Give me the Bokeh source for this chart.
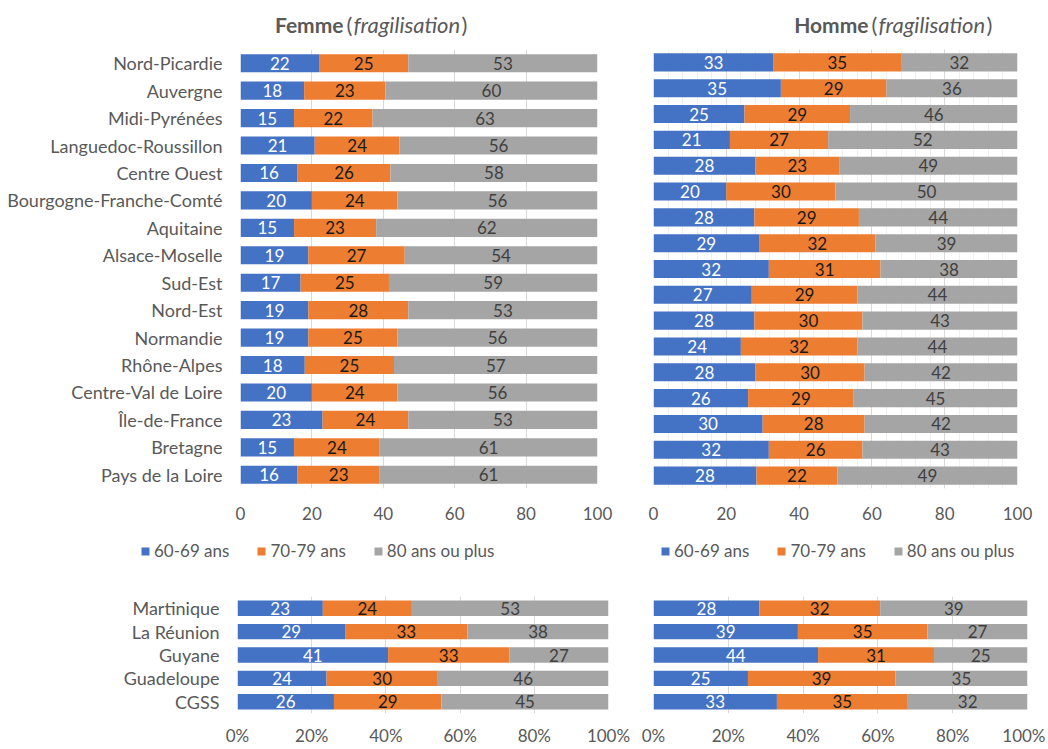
import numpy as np
from bokeh.plotting import figure
from bokeh.layouts import column, row
from bokeh.models import (FactorRange, Range1d, Legend, LegendItem, Label,
                          ColumnDataSource, FixedTicker, PrintfTickFormatter)
from bokeh.core.properties import value
from bokeh.embed import file_html
from bokeh.resources import INLINE

FONT = "Lato"

# ---------------- data ----------------
regions_femme = ["Nord-Picardie", "Auvergne", "Midi-Pyrénées", "Languedoc-Roussillon",
                 "Centre Ouest", "Bourgogne-Franche-Comté", "Aquitaine", "Alsace-Moselle",
                 "Sud-Est", "Nord-Est", "Normandie", "Rhône-Alpes", "Centre-Val de Loire",
                 "Île-de-France", "Bretagne", "Pays de la Loire"]
femme_60_69 = [22, 18, 15, 21, 16, 20, 15, 19, 17, 19, 19, 18, 20, 23, 15, 16]
femme_70_79 = [25, 23, 22, 24, 26, 24, 23, 27, 25, 28, 25, 25, 24, 24, 24, 23]
femme_80_plus = [53, 60, 63, 56, 58, 56, 62, 54, 59, 53, 56, 57, 56, 53, 61, 61]

rows_homme = ["1", "2", "3", "4", "5", "6", "7", "8", "9", "10", "11", "12",
              "13", "14", "15", "16", "17"]
homme_60_69 = [33, 35, 25, 21, 28, 20, 28, 29, 32, 27, 28, 24, 28, 26, 30, 32, 28]
homme_70_79 = [35, 29, 29, 27, 23, 30, 29, 32, 31, 29, 30, 32, 30, 29, 28, 26, 22]
homme_80_plus = [32, 36, 46, 52, 49, 50, 44, 39, 38, 44, 43, 44, 42, 45, 42, 43, 49]

regions_dom = ["Martinique", "La Réunion", "Guyane", "Guadeloupe", "CGSS"]
dom_femme_60_69 = [23, 29, 41, 24, 26]
dom_femme_70_79 = [24, 33, 33, 30, 29]
dom_femme_80_plus = [53, 38, 27, 46, 45]
dom_homme_60_69 = [28, 39, 44, 25, 33]
dom_homme_70_79 = [32, 35, 31, 39, 35]
dom_homme_80_plus = [39, 27, 25, 35, 32]

series_labels = ["60-69 ans", "70-79 ans", "80 ans ou plus"]
x_ticks = [0, 20, 40, 60, 80, 100]

# ---------------- styles ----------------
COLORS = ["#4472C4", "#ED7D31", "#A5A5A5"]
TEXT_COLORS = ["#FFFFFF", "#1A1A1A", "#404040"]
AXIS_COLOR = "#595959"
GRID_COLOR = "#D9D9D9"
W_TOTAL = 1045


def make_source(cats, s1, s2, s3):
    a, b, c = np.array(s1, float), np.array(s2, float), np.array(s3, float)
    tot = a + b + c
    n1, n2, n3 = 100 * a / tot, 100 * b / tot, 100 * c / tot
    return ColumnDataSource(dict(
        cat=list(cats), n1=n1, n2=n2, n3=n3,
        m1=n1 / 2, m2=n1 + n2 / 2, m3=n1 + n2 + n3 / 2,
        l1=[str(v) for v in s1], l2=[str(v) for v in s2], l3=[str(v) for v in s3]))


def make_panel(cats, s1, s2, s3, width, height, bl, br, bt, bb, bar_h,
               show_cats, pct, x_standoff, minor=False):
    p = figure(width=width, height=height, output_backend="svg", toolbar_location=None,
               x_range=Range1d(0, 100), y_range=FactorRange(factors=list(reversed(cats))),
               min_border_left=bl, min_border_right=br, min_border_top=bt,
               min_border_bottom=bb, outline_line_color=None)
    src = make_source(cats, s1, s2, s3)
    p.hbar_stack(["n1", "n2", "n3"], y="cat", height=bar_h, color=COLORS,
                 line_color=None, source=src)
    for k in range(3):
        p.text(x=f"m{k+1}", y="cat", text=f"l{k+1}", source=src, text_align="center",
               text_baseline="middle", text_font=value(FONT), text_font_size="17px",
               text_color=TEXT_COLORS[k])
    p.ygrid.visible = False
    p.xgrid.grid_line_color = GRID_COLOR
    ticker = FixedTicker(ticks=x_ticks)
    if minor:
        ticker = FixedTicker(ticks=x_ticks, minor_ticks=list(range(0, 101, 4)))
        p.xgrid.minor_grid_line_color = "#EFEFEF"
    p.xaxis.ticker = ticker
    if pct:
        p.xaxis.formatter = PrintfTickFormatter(format="%d%%")
    for ax in p.axis:
        ax.axis_line_color = None
        ax.major_tick_line_color = None
        ax.minor_tick_line_color = None
        ax.major_tick_out = 0
        ax.major_tick_in = 0
        ax.minor_tick_out = 0
        ax.minor_tick_in = 0
        ax.major_label_text_font = FONT
        ax.major_label_text_color = AXIS_COLOR
    p.xaxis.major_label_text_font_size = "17px"
    p.yaxis.major_label_text_font_size = "18px"
    p.xaxis.major_label_standoff = x_standoff
    p.yaxis.major_label_standoff = 18
    if not show_cats:
        p.yaxis.visible = False
    return p


def blank_fig(width, height):
    f = figure(width=width, height=height, output_backend="svg", toolbar_location=None,
               x_range=Range1d(0, width), y_range=Range1d(0, height),
               min_border=0, min_border_left=0, min_border_right=0,
               min_border_top=0, min_border_bottom=0, outline_line_color=None)
    f.axis.visible = False
    f.grid.visible = False
    return f


# ---------------- titles ----------------
TITLE_H = 40
title_fig = blank_fig(W_TOTAL, TITLE_H)


def add_title(f, x, y, main):
    size = "22px"
    f.add_layout(Label(x=x, y=y, text=main, text_font=FONT, text_font_style="bold",
                       text_font_size="21px", text_color=AXIS_COLOR, text_align="right",
                       text_baseline="middle"))
    f.add_layout(Label(x=x + 3, y=y, text="(", text_font=FONT, text_font_size=size,
                       text_color=AXIS_COLOR, text_align="left", text_baseline="middle"))
    f.add_layout(Label(x=x + 10, y=y, text="fragilisation", text_font=FONT,
                       text_font_style="italic", text_font_size=size, text_color=AXIS_COLOR,
                       text_align="left", text_baseline="middle"))
    f.add_layout(Label(x=x + 118, y=y, text=")", text_font=FONT, text_font_size=size,
                       text_color=AXIS_COLOR, text_align="left", text_baseline="middle"))


add_title(title_fig, 343, TITLE_H - 24, "Femme")
add_title(title_fig, 868, TITLE_H - 24, "Homme")

# ---------------- main panels ----------------
p1 = make_panel(regions_femme, femme_60_69, femme_70_79, femme_80_plus,
                625, 488, 240, 28, 9, 40, 0.66, True, False, 18)
p2 = make_panel(rows_homme, homme_60_69, homme_70_79, homme_80_plus,
                420, 488, 28, 28, 9, 40, 0.7, False, False, 18, minor=True)

# ---------------- legends ----------------
LEG_H = 47
legend_fig = blank_fig(W_TOTAL, LEG_H)


def add_legend(f, x0):
    # zero-size proxy bars, only used to give the legend its coloured squares
    rs = [f.hbar(y=[0], left=[0], right=[0], height=0, color=c, line_color=None)
          for c in COLORS]
    leg = Legend(items=[LegendItem(label=lab, renderers=[r]) for lab, r in zip(series_labels, rs)],
                 orientation="horizontal", location=(x0, 14), border_line_color=None,
                 background_fill_alpha=0, label_text_font=FONT, label_text_font_size="17px",
                 label_text_color=AXIS_COLOR, glyph_width=10, glyph_height=10,
                 spacing=27, padding=4, margin=0, label_standoff=4)
    f.add_layout(leg)


add_legend(legend_fig, 140)
add_legend(legend_fig, 660)

# ---------------- DOM panels ----------------
p3 = make_panel(regions_dom, dom_femme_60_69, dom_femme_70_79, dom_femme_80_plus,
                630, 173, 237, 22, 21, 32, 0.66, True, True, 11)
p4 = make_panel(regions_dom, dom_homme_60_69, dom_homme_70_79, dom_homme_80_plus,
                415, 173, 23, 18, 21, 32, 0.66, False, True, 11)

layout = column(title_fig, row(p1, p2), legend_fig, row(p3, p4))
open("out.html", "w").write(file_html(layout, INLINE))
